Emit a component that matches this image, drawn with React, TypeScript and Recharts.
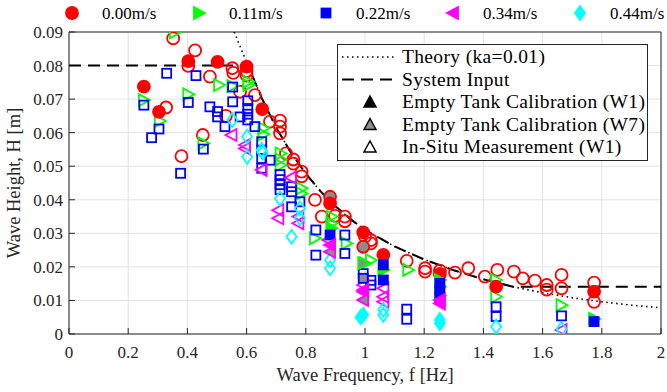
import React from 'react'
import { ComposedChart, Scatter, XAxis, YAxis, CartesianGrid } from 'recharts'

type Pt = [number, number]

const xTicks = [0, 0.2, 0.4, 0.6, 0.8, 1, 1.2, 1.4, 1.6, 1.8, 2]
const yTicks = [0, 0.01, 0.02, 0.03, 0.04, 0.05, 0.06, 0.07, 0.08, 0.09]

// Theory (ka=0.01) curve
const theory: Pt[] = [
    [0.558, 0.09], [0.6, 0.081], [0.65, 0.0705], [0.7, 0.0615], [0.75, 0.054], [0.8, 0.0478],
    [0.85, 0.0425], [0.9, 0.0381], [0.95, 0.0343], [1.0, 0.031], [1.1, 0.0261], [1.2, 0.0222],
    [1.3, 0.019], [1.4, 0.0163], [1.5, 0.0141], [1.6, 0.0123], [1.7, 0.0108], [1.8, 0.0096],
    [1.9, 0.0086], [2.0, 0.0078],
]

// System input
const systemInput: Pt[] = [
    [0, 0.08], [0.605, 0.08], [0.65, 0.0705], [0.7, 0.0615], [0.75, 0.054], [0.8, 0.0478],
    [0.85, 0.0425], [0.9, 0.0381], [0.95, 0.0343], [1.0, 0.031], [1.1, 0.0261], [1.2, 0.0222],
    [1.3, 0.019], [1.4, 0.0163], [1.5, 0.0141], [2.0, 0.0141],
]

// 0.00 m/s
const v000InSitu: Pt[] = [
    [0.352, 0.0881], [0.426, 0.0845], [0.403, 0.0799], [0.552, 0.0792], [0.555, 0.0778], [0.6, 0.0783],
    [0.6, 0.077], [0.476, 0.0767], [0.578, 0.0722], [0.628, 0.0712], [0.328, 0.0675], [0.53, 0.065],
    [0.679, 0.0633], [0.713, 0.0636], [0.713, 0.0618], [0.713, 0.0598], [0.452, 0.0593], [0.38, 0.053],
    [0.733, 0.0538], [0.758, 0.052], [0.758, 0.0508], [0.786, 0.0484], [0.786, 0.047], [0.831, 0.04],
    [0.854, 0.035], [0.899, 0.0352], [0.932, 0.035], [0.932, 0.0336], [1.0, 0.029], [1.02, 0.028],
    [1.02, 0.027], [1.141, 0.0218], [1.203, 0.0196], [1.203, 0.0186], [1.253, 0.0189], [1.304, 0.0183],
    [1.349, 0.0196], [1.405, 0.0171], [1.447, 0.0191], [1.503, 0.0186], [1.533, 0.0166], [1.574, 0.0159],
    [1.614, 0.0146], [1.614, 0.0132], [1.664, 0.0176], [1.664, 0.0136], [1.774, 0.0153], [1.774, 0.0096],
]
const v000W1: Pt[] = [
    [0.253, 0.0737], [0.304, 0.0662], [0.403, 0.0813], [0.502, 0.0811], [0.6, 0.0797], [0.653, 0.067],
    [0.882, 0.0389], [0.994, 0.0303], [1.062, 0.0236], [1.253, 0.0179], [1.443, 0.0141], [1.774, 0.0126],
]
const v000W7: Pt[] = [[0.882, 0.0409], [0.994, 0.026]]

// 0.11 m/s
const v011InSitu: Pt[] = [
    [0.358, 0.0899], [0.253, 0.0697], [0.307, 0.0635], [0.403, 0.0714], [0.454, 0.0568], [0.507, 0.0742],
    [0.552, 0.0739], [0.606, 0.0752], [0.606, 0.0742], [0.657, 0.0613], [0.657, 0.0595], [0.715, 0.0538],
    [0.715, 0.052], [0.715, 0.0503], [0.786, 0.0434], [0.786, 0.0419], [0.831, 0.0285], [0.887, 0.035],
    [0.887, 0.033], [0.938, 0.027], [1.0, 0.0211], [1.02, 0.022], [1.146, 0.0191], [1.443, 0.0161],
    [1.443, 0.0111], [1.664, 0.0086],
]
const v011W1: Pt[] = [
    [0.887, 0.0315], [1.062, 0.0191], [1.253, 0.0161], [1.253, 0.0141], [1.253, 0.0115], [1.774, 0.0045],
]
const v011W7: Pt[] = [[0.994, 0.0211]]

// 0.22 m/s
const v022InSitu: Pt[] = [
    [0.33, 0.0777], [0.429, 0.077], [0.253, 0.0682], [0.304, 0.0611], [0.279, 0.0585], [0.403, 0.069],
    [0.377, 0.0479], [0.454, 0.0551], [0.476, 0.0677], [0.502, 0.0663], [0.502, 0.0647], [0.527, 0.0618],
    [0.553, 0.0736], [0.553, 0.0692], [0.578, 0.0647], [0.604, 0.0695], [0.604, 0.0672], [0.604, 0.0655],
    [0.604, 0.0638], [0.628, 0.0618], [0.651, 0.0573], [0.651, 0.0548], [0.651, 0.0523], [0.651, 0.0494],
    [0.679, 0.0518], [0.713, 0.0475], [0.713, 0.046], [0.713, 0.0445], [0.713, 0.043], [0.752, 0.0439],
    [0.752, 0.0424], [0.752, 0.0379], [0.78, 0.0394], [0.834, 0.031], [0.834, 0.0235], [0.932, 0.0295],
    [0.932, 0.024], [0.994, 0.018], [1.02, 0.016], [1.02, 0.0146], [1.141, 0.0074], [1.141, 0.0044],
    [1.443, 0.0081], [1.443, 0.0052], [1.664, 0.0054],
]
const v022W1: Pt[] = [
    [0.882, 0.0295], [1.062, 0.0206], [1.062, 0.0161], [1.253, 0.0151], [1.253, 0.0131], [1.253, 0.0111],
    [1.774, 0.0037],
]
const v022W7: Pt[] = [[0.994, 0.0166]]

// 0.34 m/s
const v034InSitu: Pt[] = [
    [0.549, 0.0593], [0.595, 0.0563], [0.595, 0.0553], [0.651, 0.0489], [0.707, 0.0369], [0.707, 0.0345],
    [0.75, 0.0466], [0.775, 0.035], [0.775, 0.033], [0.876, 0.028], [0.994, 0.0146], [1.062, 0.0136],
    [1.062, 0.0111], [1.062, 0.0096], [1.664, 0.0012],
]
const v034W1: Pt[] = [[0.882, 0.0265], [0.994, 0.0131], [1.253, 0.0101], [1.253, 0.0091]]
const v034W7: Pt[] = [[0.882, 0.0245], [0.994, 0.0126], [0.994, 0.0101]]

// 0.44 m/s
const v044InSitu: Pt[] = [
    [0.552, 0.0638], [0.602, 0.0588], [0.602, 0.0528], [0.651, 0.0548], [0.654, 0.054], [0.713, 0.0404],
    [0.752, 0.029], [0.78, 0.0374], [0.78, 0.0345], [0.882, 0.022], [0.882, 0.0196], [1.062, 0.0072],
    [1.062, 0.0057], [1.443, 0.0022], [1.664, 0.0015],
]
const v044W1: Pt[] = [[0.994, 0.0057], [0.985, 0.005], [1.253, 0.0042], [1.253, 0.0032]]

const speedLabels = ['0.00m/s', '0.11m/s', '0.22m/s', '0.34m/s', '0.44m/s']
const speedColors = ['#ff0000', '#00ff00', '#0000ff', '#ff00ff', '#00ffff']
const speedMarkers = ['circle', 'right', 'square', 'left', 'diamond']

const legendLabels = [
    'Theory (ka=0.01)',
    'System Input',
    'Empty Tank Calibration (W1)',
    'Empty Tank Calibration (W7)',
    'In-Situ Measurement (W1)',
]

const toRows = (pts: Pt[]) => pts.map(([f, h]) => ({ f, h }))

const Marker = ({ kind, cx, cy, stroke, fill, s = 1 }: any) => {
    const sw = 1.8
    if (kind === 'circle') return <circle cx={cx} cy={cy} r={6 * s} stroke={stroke} strokeWidth={sw} fill={fill} />
    if (kind === 'square') return <rect x={cx - 4.5 * s} y={cy - 4.5 * s} width={9 * s} height={9 * s} stroke={stroke} strokeWidth={sw} fill={fill} />
    if (kind === 'diamond')
        return <polygon points={`${cx},${cy - 7 * s} ${cx + 5 * s},${cy} ${cx},${cy + 7 * s} ${cx - 5 * s},${cy}`} stroke={stroke} strokeWidth={sw} fill={fill} />
    if (kind === 'right')
        return <polygon points={`${cx - 5 * s},${cy - 6 * s} ${cx + 6 * s},${cy} ${cx - 5 * s},${cy + 6 * s}`} stroke={stroke} strokeWidth={sw} fill={fill} />
    if (kind === 'left')
        return <polygon points={`${cx + 5 * s},${cy - 6 * s} ${cx - 6 * s},${cy} ${cx + 5 * s},${cy + 6 * s}`} stroke={stroke} strokeWidth={sw} fill={fill} />
    // up triangle (legend)
    return <polygon points={`${cx - 6 * s},${cy + 5 * s} ${cx},${cy - 6 * s} ${cx + 6 * s},${cy + 5 * s}`} stroke={stroke} strokeWidth={1.5} fill={fill} />
}

const shapeFor = (kind: string, stroke: string, fill: string) => (p: any) =>
    <Marker kind={kind} cx={p.cx} cy={p.cy} stroke={stroke} fill={fill} />

const noDot = () => <g />

const series = [
    { inSitu: v000InSitu, w1: v000W1, w7: v000W7 },
    { inSitu: v011InSitu, w1: v011W1, w7: v011W7 },
    { inSitu: v022InSitu, w1: v022W1, w7: v022W7 },
    { inSitu: v034InSitu, w1: v034W1, w7: v034W7 },
    { inSitu: v044InSitu, w1: v044W1, w7: [] as Pt[] },
]

const FONT = '"Liberation Serif", "Times New Roman", serif'
const tickStyle = { fontFamily: FONT, fontSize: 17, fill: '#262626' }

export default function App() {
    return (
        <div style={{ position: 'absolute', left: 0, top: 0, width: 667, height: 392, background: '#fff' }}>
            <ComposedChart width={667} height={392} margin={{ top: 31, right: 5, bottom: 28, left: 9 }}>
                <CartesianGrid stroke="#e3e3e3" strokeWidth={1} />
                <XAxis
                    type="number"
                    dataKey="f"
                    domain={[0, 2]}
                    ticks={xTicks}
                    height={30}
                    tickSize={-6}
                    tickMargin={18}
                    stroke="#262626"
                    tick={tickStyle}
                    interval={0}
                    allowDataOverflow
                />
                <XAxis
                    xAxisId="top"
                    orientation="top"
                    type="number"
                    domain={[0, 2]}
                    ticks={xTicks}
                    height={1}
                    tickSize={-6}
                    tickFormatter={() => ''}
                    stroke="#262626"
                    interval={0}
                />
                <YAxis
                    type="number"
                    dataKey="h"
                    domain={[0, 0.09]}
                    ticks={yTicks}
                    width={60}
                    tickSize={-6}
                    tickMargin={12}
                    stroke="#262626"
                    tick={tickStyle}
                    interval={0}
                    allowDataOverflow
                />
                <YAxis
                    yAxisId="right"
                    orientation="right"
                    type="number"
                    domain={[0, 0.09]}
                    ticks={yTicks}
                    width={1}
                    tickSize={-6}
                    tickFormatter={() => ''}
                    stroke="#262626"
                    interval={0}
                />

                <Scatter
                    data={toRows(theory)}
                    line={{ stroke: '#000', strokeWidth: 1.6, strokeDasharray: '1.5 3.5' }}
                    lineType="joint"
                    shape={noDot}
                    isAnimationActive={false}
                />
                <Scatter
                    data={toRows(systemInput)}
                    line={{ stroke: '#000', strokeWidth: 2, strokeDasharray: '12 7' }}
                    lineType="joint"
                    shape={noDot}
                    isAnimationActive={false}
                />

                {series.map((s, i) => (
                    <Scatter
                        key={'in' + i}
                        data={toRows(s.inSitu)}
                        shape={shapeFor(speedMarkers[i], speedColors[i], 'none')}
                        isAnimationActive={false}
                    />
                ))}
                {series.map((s, i) => (
                    <Scatter
                        key={'w7' + i}
                        data={toRows(s.w7)}
                        shape={shapeFor(speedMarkers[i], speedColors[i], '#8c8c8c')}
                        isAnimationActive={false}
                    />
                ))}
                {series.map((s, i) => (
                    <Scatter
                        key={'w1' + i}
                        data={toRows(s.w1)}
                        shape={shapeFor(speedMarkers[i], speedColors[i], speedColors[i])}
                        isAnimationActive={false}
                    />
                ))}
            </ComposedChart>

            <svg width={667} height={392} style={{ position: 'absolute', left: 0, top: 0, pointerEvents: 'none' }}>
                {/* top legend */}
                {speedLabels.map((lab, i) => (
                    <g key={lab}>
                        <Marker kind={speedMarkers[i]} cx={72 + i * 127} cy={13} stroke={speedColors[i]} fill={speedColors[i]} />
                        <text x={102 + i * 127} y={18.5} fontFamily={FONT} fontSize={17} fill="#000">{lab}</text>
                    </g>
                ))}

                {/* inner legend */}
                <rect x={337.5} y={44.5} width={310} height={116} fill="#fff" stroke="#262626" strokeWidth={1} />
                <line x1={342} y1={57} x2={397} y2={57} stroke="#000" strokeWidth={1.6} strokeDasharray="1.5 3.5" />
                <line x1={342} y1={79.5} x2={397} y2={79.5} stroke="#000" strokeWidth={2} strokeDasharray="12 7" />
                <Marker kind="up" cx={370} cy={102} stroke="#000" fill="#000" />
                <Marker kind="up" cx={370} cy={124.5} stroke="#000" fill="#8c8c8c" />
                <Marker kind="up" cx={370} cy={147} stroke="#000" fill="#fff" />
                {legendLabels.map((lab, i) => (
                    <text key={lab} x={402} y={63 + i * 22.5} fontFamily={FONT} fontSize={19.5} letterSpacing={0.35} fill="#000">{lab}</text>
                ))}

                {/* axis titles */}
                <text x={365} y={381} textAnchor="middle" fontFamily={FONT} fontSize={18.5} fill="#262626">
                    Wave Frequency, f [Hz]
                </text>
                <text x={20} y={183} textAnchor="middle" transform="rotate(-90 20 183)" fontFamily={FONT} fontSize={18.5} fill="#262626">
                    Wave Height, H [m]
                </text>
            </svg>
        </div>
    )
}
